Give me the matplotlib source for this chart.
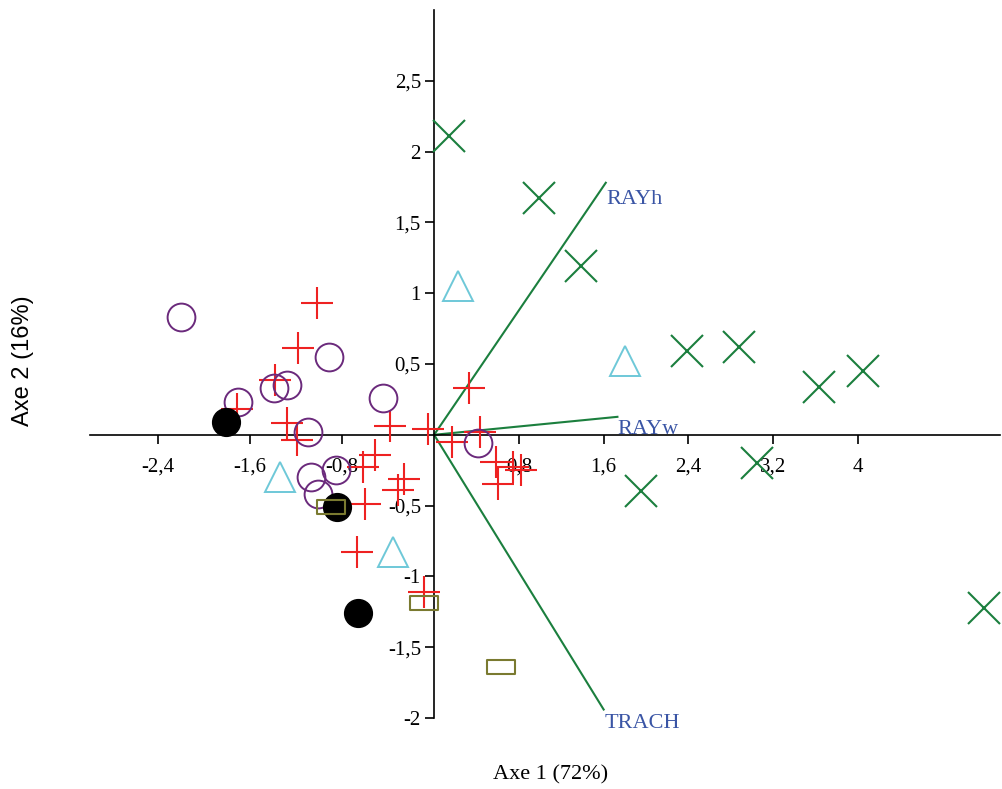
import numpy as np
import matplotlib.pyplot as plt
from matplotlib.path import Path

# groups of individuals (axe 1, axe 2)
x_cross = [0.14, 0.99, 1.39, 2.39, 2.88, 3.63, 4.05, 3.05, 1.95, 5.19]
y_cross = [2.11, 1.67, 1.19, 0.59, 0.62, 0.34, 0.45, -0.20, -0.40, -1.22]

x_tri = [0.23, 1.80, -1.34, -0.36]
y_tri = [1.05, 0.52, -0.30, -0.83]

x_circ = [-2.20, -1.70, -1.39, -1.28, -0.91, -0.44, -1.10, -1.07, -0.85, -1.01, 0.41]
y_circ = [0.83, 0.23, 0.33, 0.35, 0.55, 0.26, 0.02, -0.30, -0.25, -0.42, -0.06]

x_dot = [-1.81, -0.84, -0.66]
y_dot = [0.09, -0.51, -1.26]

x_rect = [-0.90, -0.085, 0.63]
y_rect = [-0.51, -1.19, -1.64]

x_plus = [-1.02, -1.18, -1.38, -1.71, -1.28, -1.19, -0.38, -0.05, -0.51, -0.62,
          -0.26, -0.31, -0.60, -0.67, -0.09, 0.17, 0.43, 0.58, 0.74, 0.82, 0.60, 0.33]
y_plus = [0.93, 0.61, 0.39, 0.18, 0.08, -0.04, 0.06, 0.04, -0.14, -0.23,
          -0.31, -0.39, -0.49, -0.83, -1.11, -0.05, 0.02, -0.19, -0.23, -0.25, -0.35, 0.33]

# variable vectors
var_names = ['RAYh', 'RAYw', 'TRACH']
var_x = [1.62, 1.73, 1.60]
var_y = [1.78, 0.127, -1.94]

xticks = [-2.4, -1.6, -0.8, 0.8, 1.6, 2.4, 3.2, 4]
yticks = [-2, -1.5, -1, -0.5, 0.5, 1, 1.5, 2, 2.5]

green = '#1b7f3e'
blue = '#3a55a5'
serif = ['Liberation Serif', 'DejaVu Serif']

# the original axis is a bit wider on the negative side
k = 115 / 105.9


def fwd(v):
    v = np.asarray(v, dtype=float)
    return np.where(v < 0, v * k, v)


def inv(v):
    v = np.asarray(v, dtype=float)
    return np.where(v < 0, v / k, v)


fig = plt.figure(figsize=(10.02, 7.89), dpi=100)
ax = fig.add_axes([90 / 1002, 1 - 720 / 789, 910 / 1002, 710 / 789])
ax.set_xscale('function', functions=(fwd, inv))
ax.set_xlim(-2.99, 5.34)
ax.set_ylim(-2.014, 3.0)

for s in ['top', 'right']:
    ax.spines[s].set_visible(False)
ax.spines['left'].set_position(('data', 0))
ax.spines['bottom'].set_position(('data', 0))
ax.spines['left'].set_linewidth(1.2)
ax.spines['bottom'].set_linewidth(1.2)
ax.spines['left'].set_bounds(-2.0, 3.0)

ax.set_xticks(xticks)
ax.set_xticklabels([f'{t:g}'.replace('.', ',') for t in xticks], family=serif, fontsize=15)
ax.set_yticks(yticks)
ax.set_yticklabels([f'{t:g}'.replace('.', ',') for t in yticks], family=serif, fontsize=15)
ax.xaxis.set_minor_locator(plt.NullLocator())
ax.tick_params(axis='both', direction='out', length=6.5, width=1.2)
ax.tick_params(axis='x', pad=10)
ax.tick_params(axis='y', pad=3)

# vectors
for name, vx, vy in zip(var_names, var_x, var_y):
    ax.plot([0, vx], [0, vy], color=green, lw=1.5, zorder=2)
ax.text(var_x[0] + 0.01, var_y[0] - 0.12, var_names[0], color=blue, family=serif,
        fontsize=16, va='center', ha='left')
ax.text(var_x[1] + 0.0, var_y[1] - 0.09, var_names[1], color=blue, family=serif,
        fontsize=16, va='center', ha='left')
ax.text(var_x[2] + 0.01, var_y[2] - 0.1, var_names[2], color=blue, family=serif,
        fontsize=16, va='center', ha='left')

rect = Path([(-1, -0.5), (1, -0.5), (1, 0.5), (-1, 0.5), (-1, -0.5)],
            [Path.MOVETO, Path.LINETO, Path.LINETO, Path.LINETO, Path.CLOSEPOLY])

ax.plot(x_plus, y_plus, ls='none', marker='+', ms=23, mew=1.5, color='#ee2222', zorder=3)
ax.plot(x_circ, y_circ, ls='none', marker='o', ms=20, mew=1.4, mfc='none', mec='#6b2a7c', zorder=3)
ax.plot(x_tri, y_tri, ls='none', marker='^', ms=21, mew=1.4, mfc='none', mec='#6ec8d8', zorder=3)
ax.plot(x_cross, y_cross, ls='none', marker='x', ms=23, mew=1.5, color=green, zorder=3)
ax.plot(x_dot, y_dot, ls='none', marker='o', ms=20, color='black', zorder=4)
ax.plot(x_rect, y_rect, ls='none', marker=rect, ms=20, mew=1.5, mfc='none', mec='#7a7a30', zorder=5)

fig.text(551 / 1002, 1 - 775 / 789, 'Axe 1 (72%)', family=serif, fontsize=16,
         ha='center', va='center')
fig.text(23 / 1002, 1 - 361 / 789, 'Axe 2 (16%)', family=['Liberation Sans', 'DejaVu Sans'],
         fontsize=17, ha='center', va='center', rotation=90)

fig.savefig('out.png', dpi=100)
